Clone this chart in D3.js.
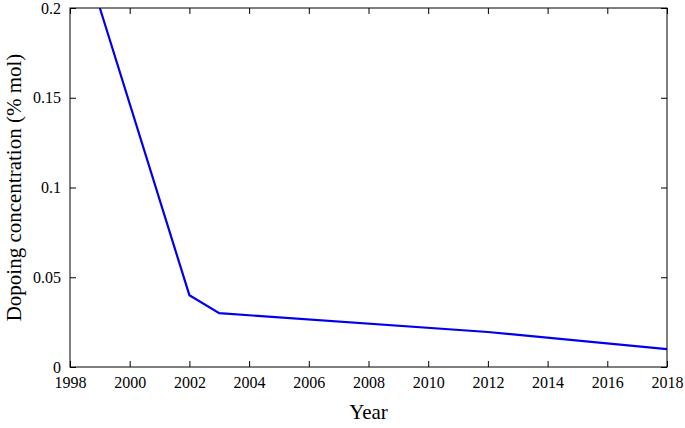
<!DOCTYPE html>
<html lang="en">
<head>
<meta charset="UTF-8">
<script src="https://d3js.org/d3.v7.min.js"></script>
<style>
  body { margin: 0; background: #fff; }
  text { font-family: "Liberation Serif", serif; }
</style>
</head>
<body>
<div id="chart"></div>
<script>
// values
const years = [1999, 2002, 2003, 2012, 2018];
const doping = [0.2, 0.04, 0.03, 0.0195, 0.01];
const xTicks = [1998, 2000, 2002, 2004, 2006, 2008, 2010, 2012, 2014, 2016, 2018];
const yTicks = [0, 0.05, 0.1, 0.15, 0.2];

const width = 685, height = 428;
const margin = { top: 8, right: 18, bottom: 61, left: 70 };
const w = width - margin.left - margin.right;
const h = height - margin.top - margin.bottom;

const svg = d3.select("#chart").append("svg")
    .attr("width", width).attr("height", height);
const g = svg.append("g").attr("transform", `translate(${margin.left},${margin.top})`);

const x = d3.scaleLinear().domain([1998, 2018]).range([0, w]);
const y = d3.scaleLinear().domain([0, 0.2]).range([h, 0]);

const fmtY = d => d === 0 ? "0" : String(d);

g.append("defs").append("clipPath").attr("id", "clip")
  .append("rect").attr("width", w).attr("height", h);

g.append("path")
    .datum(years.map((yr, i) => [yr, doping[i]]))
    .attr("clip-path", "url(#clip)")
    .attr("fill", "none")
    .attr("stroke", "#0000ee")
    .attr("stroke-width", 2.2)
    .attr("d", d3.line().x(d => x(d[0])).y(d => y(d[1])));

function style(sel) {
  sel.select(".domain").remove();
  sel.selectAll("line").attr("stroke", "#000");
  sel.selectAll("text").attr("font-size", 16).attr("fill", "#000");
}

g.append("g").attr("transform", `translate(0,${h})`)
  .call(d3.axisBottom(x).tickValues(xTicks).tickFormat(d3.format("d")).tickSizeInner(-6).tickPadding(10))
  .call(style);
g.append("g")
  .call(d3.axisTop(x).tickValues(xTicks).tickFormat("").tickSizeInner(-6))
  .call(style);
g.append("g")
  .call(d3.axisLeft(y).tickValues(yTicks).tickFormat(fmtY).tickSizeInner(-6).tickPadding(9))
  .call(style);
g.append("g").attr("transform", `translate(${w},0)`)
  .call(d3.axisRight(y).tickValues(yTicks).tickFormat("").tickSizeInner(-6))
  .call(style);

g.append("rect").attr("width", w).attr("height", h)
  .attr("fill", "none").attr("stroke", "#000").attr("stroke-width", 1);

svg.append("text")
  .attr("x", margin.left + w / 2).attr("y", height - 9)
  .attr("text-anchor", "middle").attr("font-size", 21).text("Year");
svg.append("text")
  .attr("transform", `translate(21,${margin.top + h / 2}) rotate(-90)`)
  .attr("text-anchor", "middle").attr("font-size", 21)
  .text("Dopoing concentration (% mol)");
</script>
</body>
</html>
